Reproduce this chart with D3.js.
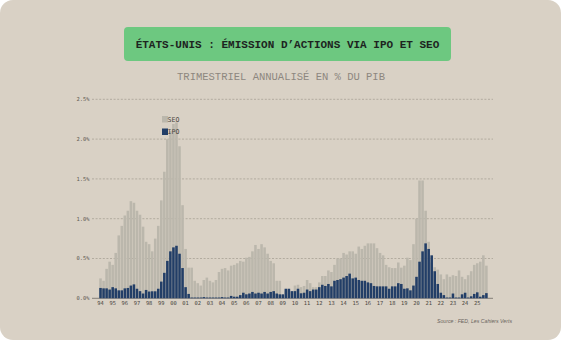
<!DOCTYPE html>
<html>
<head>
<meta charset="utf-8">
<script src="https://cdn.jsdelivr.net/npm/d3@7"></script>
<style>
  html, body { margin: 0; padding: 0; background: #ffffff; }
  svg { display: block; }
</style>
</head>
<body>
<div id="chart"></div>
<script>
// Données trimestrielles 1994T1 - 2025T4, en % du PIB (annualisé)
const years = d3.range(1994, 2026);
const quarters = years.flatMap(y => [1, 2, 3, 4].map(q => y + "Q" + q));
const yearLabels = years.map(y => String(y).slice(2));

const seo = [
  0.25, 0.22, 0.37, 0.46,   0.42, 0.57, 0.79, 0.91,   1.04, 1.10, 1.22, 1.20,   1.10, 1.05, 0.90, 0.71,
  0.68, 0.59, 0.75, 0.91,   1.23, 1.59, 2.00, 2.10,   2.19, 2.21, 1.91, 1.17,   0.62, 0.385, 0.385, 0.22,
  0.19, 0.16, 0.23, 0.26,   0.22, 0.20, 0.23, 0.33,   0.37, 0.38, 0.35, 0.41,   0.42, 0.44, 0.47, 0.46,
  0.51, 0.52, 0.59, 0.67,   0.62, 0.68, 0.64, 0.56,   0.47, 0.44, 0.22, 0.22,   0.04, 0.10, 0.10, 0.08,
  0.16, 0.17, 0.14, 0.155,  0.23, 0.19, 0.14, 0.14,   0.20, 0.28, 0.28, 0.35,   0.33, 0.42, 0.50, 0.50,
  0.57, 0.55, 0.59, 0.59,   0.56, 0.65, 0.62, 0.66,   0.69, 0.69, 0.69, 0.63,   0.57, 0.54, 0.42, 0.39,
  0.38, 0.38, 0.45, 0.385,  0.41, 0.51, 0.48, 0.68,   1.00, 1.48, 1.48, 1.10,   0.71, 0.45, 0.39, 0.36,
  0.30, 0.24, 0.30, 0.27,   0.29, 0.28, 0.35, 0.27,   0.24, 0.29, 0.34, 0.42,   0.44, 0.46, 0.54, 0.41
];
const ipo = [
  0.13, 0.125, 0.125, 0.11, 0.14, 0.125, 0.10, 0.10,  0.125, 0.13, 0.16, 0.175, 0.12, 0.09, 0.06, 0.105,
  0.085, 0.088, 0.088, 0.12, 0.21, 0.32, 0.47, 0.59, 0.64, 0.66, 0.56, 0.38,   0.14, 0.055, 0.01, 0.01,
  0.01, 0.01, 0.015, 0.01,  0.01, 0.01, 0.01, 0.01,   0.015, 0.01, 0.01, 0.03,  0.02, 0.02, 0.04, 0.07,
  0.05, 0.06, 0.08, 0.06,   0.07, 0.06, 0.08, 0.06,   0.08, 0.09, 0.06, 0.05,   0.05, 0.12, 0.12, 0.09,
  0.09, 0.12, 0.063, 0.07,  0.11, 0.09, 0.11, 0.11,   0.14, 0.17, 0.155, 0.18, 0.15, 0.22, 0.23, 0.24,
  0.26, 0.28, 0.31, 0.25,   0.26, 0.23, 0.22, 0.22,   0.20, 0.19, 0.155, 0.15, 0.15, 0.15, 0.15, 0.12,
  0.15, 0.15, 0.19, 0.18,   0.12, 0.125, 0.10, 0.16, 0.27, 0.46, 0.59, 0.69,   0.62, 0.54, 0.34, 0.18,
  0.07, 0.04, 0.01, 0.01,   0.06, 0.01, 0.01, 0.05,   0.07, 0.01, 0.025, 0.055, 0.075, 0.02, 0.04, 0.065
];
const yTicks = [0, 0.5, 1.0, 1.5, 2.0, 2.5];

const W = 561, H = 340;
const colSeo = "#bbb7ac", colIpo = "#223e67";

const svg = d3.select("#chart").append("svg")
  .attr("width", W).attr("height", H);

// fond de la carte
svg.append("rect")
  .attr("x", 0).attr("y", 0).attr("width", W).attr("height", H)
  .attr("rx", 13).attr("fill", "#d9d1c5");

// bandeau titre
svg.append("rect")
  .attr("x", 124).attr("y", 27).attr("width", 327).attr("height", 34)
  .attr("rx", 4).attr("fill", "#6dc880");
svg.append("text")
  .attr("x", 287.5).attr("y", 48)
  .attr("text-anchor", "middle")
  .style("font-family", "'Liberation Mono', 'DejaVu Sans Mono', monospace")
  .style("font-size", "11px").style("font-weight", "bold")
  .attr("fill", "#1d241f")
  .text("ÉTATS-UNIS : ÉMISSION D’ACTIONS VIA IPO ET SEO");

svg.append("text")
  .attr("x", 281).attr("y", 80)
  .attr("text-anchor", "middle")
  .style("font-family", "'Liberation Mono', 'DejaVu Sans Mono', monospace")
  .style("font-size", "10.5px")
  .attr("fill", "#8d877f")
  .text("TRIMESTRIEL ANNUALISÉ EN % DU PIB");

const x = d3.scaleBand().domain(quarters).range([99, 487.9]).paddingInner(0.16).paddingOuter(0.08);
const y = d3.scaleLinear().domain([0, 2.5]).range([298.3, 99.3]);

// grille
const grid = svg.append("g");
grid.selectAll("line")
  .data(yTicks.filter(d => d > 0))
  .join("line")
  .attr("x1", 92).attr("x2", 493)
  .attr("y1", d => y(d)).attr("y2", d => y(d))
  .attr("stroke", "#a8a196").attr("stroke-width", 0.8)
  .attr("stroke-dasharray", "2,1.6");

grid.append("line")
  .attr("x1", 92).attr("x2", 493)
  .attr("y1", y(0)).attr("y2", y(0))
  .attr("stroke", "#6f6a63").attr("stroke-width", 0.8);

svg.append("g").selectAll("text")
  .data(yTicks)
  .join("text")
  .attr("x", 89.5).attr("y", d => y(d))
  .attr("dy", "0.35em")
  .attr("text-anchor", "end")
  .style("font-family", "'DejaVu Sans Mono', monospace")
  .style("font-size", "5.4px")
  .attr("fill", "#5d5851")
  .text(d => d.toFixed(1) + "%");

// barres
svg.append("g").selectAll("rect")
  .data(quarters)
  .join("rect")
  .attr("x", d => x(d)).attr("width", x.bandwidth())
  .attr("y", (d, i) => y(seo[i])).attr("height", (d, i) => y(0) - y(seo[i]))
  .attr("fill", colSeo);

svg.append("g").selectAll("rect")
  .data(quarters)
  .join("rect")
  .attr("x", d => x(d)).attr("width", x.bandwidth())
  .attr("y", (d, i) => y(ipo[i])).attr("height", (d, i) => y(0) - y(ipo[i]))
  .attr("fill", colIpo);

// axe des x : une étiquette par année
svg.append("g").selectAll("text")
  .data(years)
  .join("text")
  .attr("x", (d) => x(d + "Q1") + x.bandwidth() / 2)
  .attr("y", 304.5)
  .attr("text-anchor", "middle")
  .style("font-family", "'DejaVu Sans Mono', monospace")
  .style("font-size", "5.4px")
  .attr("fill", "#4a4640")
  .text((d, i) => yearLabels[i]);

// légende
const legend = svg.append("g");
[["SEO", colSeo], ["IPO", colIpo]].forEach(([name, col], i) => {
  legend.append("rect")
    .attr("x", 162).attr("y", 116 + i * 12.5).attr("width", 6).attr("height", 6.5)
    .attr("fill", col);
  legend.append("text")
    .attr("x", 167.5).attr("y", 119.5 + i * 12.5)
    .attr("dy", "0.35em")
    .style("font-family", "'DejaVu Sans Mono', monospace")
    .style("font-size", "6.6px")
    .attr("fill", "#4a4640")
    .text(name);
});

svg.append("text")
  .attr("x", 512).attr("y", 323)
  .attr("text-anchor", "end")
  .style("font-family", "'Liberation Sans', sans-serif")
  .style("font-size", "5.2px").style("font-style", "italic")
  .attr("fill", "#6b665f")
  .text("Source : FED, Les Cahiers Verts");
</script>
</body>
</html>
